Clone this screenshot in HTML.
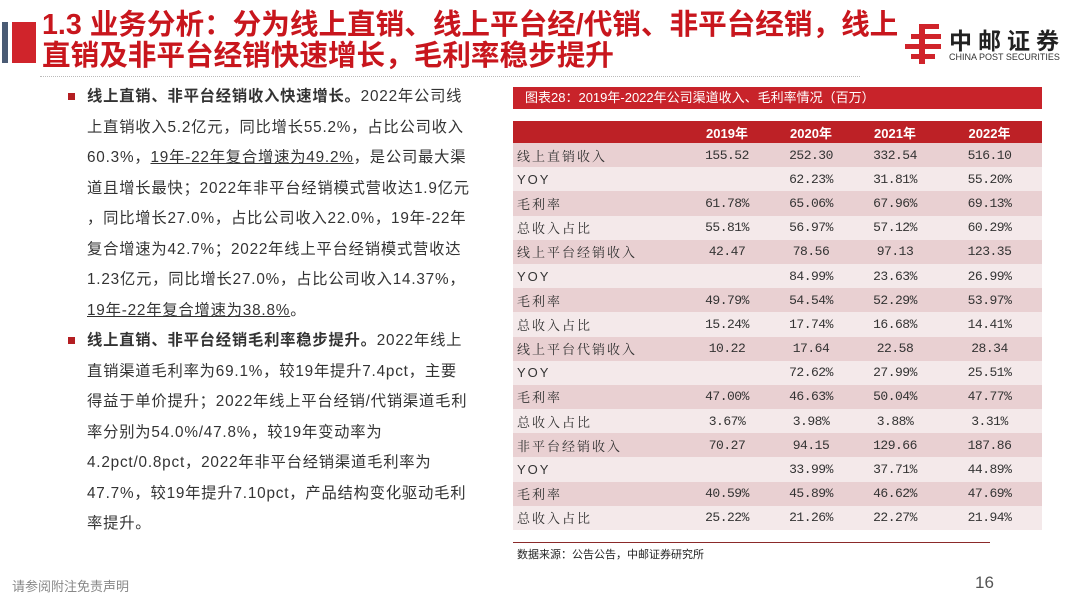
<!DOCTYPE html>
<html><head><meta charset="utf-8">
<style>
*{margin:0;padding:0;box-sizing:border-box}
body{width:1080px;height:608px;background:#fff;position:relative;overflow:hidden;font-family:"Liberation Sans","Noto Sans CJK SC",sans-serif}
.abs{position:absolute}
.title{left:42px;top:10px;color:#c8161d;font-size:28.6px;font-weight:bold;line-height:31px;letter-spacing:0px;white-space:nowrap}
.para{left:68px;top:82px;width:420px;font-size:15.3px;line-height:30.5px;color:#333;white-space:nowrap;letter-spacing:0.8px}
.para p{position:relative;padding-left:19px}
.para p::before{content:"";position:absolute;left:0;top:11px;width:7px;height:7px;background:#b41e22}
u{text-decoration:underline}
table{border-collapse:collapse;font-size:13px;color:#333}
td{height:24.2px;padding:0;text-align:center;font-family:"Liberation Mono",monospace;letter-spacing:-0.5px}
td.l{text-align:left;padding-left:4px;font-family:"Noto Serif CJK SC","Liberation Sans",serif;letter-spacing:2px}
tr.a td{background:#e9d0d2}
tr.b td{background:#f4e9ea}
th{background:#bd2126;color:#fff;height:22px;font-size:13px}
</style></head><body>
<div class="abs" style="left:2px;top:22px;width:6px;height:41px;background:#4a5b74"></div>
<div class="abs" style="left:12px;top:22px;width:24px;height:41px;background:#d0242b"></div>
<div class="abs title">1.3 业务分析：分为线上直销、线上平台经/代销、非平台经销，线上<br>直销及非平台经销快速增长，毛利率稳步提升</div>
<div class="abs" style="left:40px;top:76px;width:820px;border-top:1px dotted #bbb"></div>
<div class="abs" style="left:903px;top:22px;width:165px;height:44px">
<svg width="42" height="44" style="position:absolute;left:0;top:0"><g fill="#d0242b"><rect x="18" y="2" width="18" height="5"/><rect x="8" y="12" width="30" height="5"/><rect x="2" y="22" width="36" height="5"/><rect x="8" y="32" width="24" height="5"/><rect x="16" y="2" width="6" height="40"/></g></svg>
<div style="position:absolute;left:46px;top:0;font-size:23px;font-weight:bold;color:#222;letter-spacing:6px">中邮证券</div>
<div style="position:absolute;left:46px;top:30px;font-size:9px;color:#333;white-space:nowrap">CHINA POST SECURITIES</div>
</div>
<div class="abs para">
<p><b>线上直销、非平台经销收入快速增长。</b>2022年公司线<br>上直销收入5.2亿元，同比增长55.2%，占比公司收入<br>60.3%，<u>19年-22年复合增速为49.2%</u>，是公司最大渠<br>道且增长最快；2022年非平台经销模式营收达1.9亿元<br>，同比增长27.0%，占比公司收入22.0%，19年-22年<br>复合增速为42.7%；2022年线上平台经销模式营收达<br>1.23亿元，同比增长27.0%，占比公司收入14.37%，<br><u>19年-22年复合增速为38.8%</u>。</p>
<p><b>线上直销、非平台经销毛利率稳步提升。</b>2022年线上<br>直销渠道毛利率为69.1%，较19年提升7.4pct，主要<br>得益于单价提升；2022年线上平台经销/代销渠道毛利<br>率分别为54.0%/47.8%，较19年变动率为<br>4.2pct/0.8pct，2022年非平台经销渠道毛利率为<br>47.7%，较19年提升7.10pct，产品结构变化驱动毛利<br>率提升。</p>
</div>
<div class="abs" style="left:513px;top:87px;width:529px;height:22px;background:#c8232a;color:#fff;font-size:13px;line-height:22px;padding-left:12px">图表28：2019年-2022年公司渠道收入、毛利率情况（百万）</div>
<table class="abs" id="tbl" style="left:513px;top:121px;width:529px">
<colgroup><col style="width:172px"><col style="width:84px"><col style="width:84px"><col style="width:84px"><col style="width:105px"></colgroup>
<tr><th></th><th>2019年</th><th>2020年</th><th>2021年</th><th>2022年</th></tr>
</table>
<div class="abs" style="left:513px;top:542px;width:477px;height:1px;background:#8b2a2a"></div>
<div class="abs" style="left:517px;top:546px;font-size:11px;color:#222">数据来源：公告公告，中邮证券研究所</div>
<div class="abs" style="left:12px;top:576px;font-size:13px;color:#888">请参阅附注免责声明</div>
<div class="abs" style="left:975px;top:573px;font-size:17px;color:#555">16</div>
<script>
var labels=["线上直销收入","YOY","毛利率","总收入占比","线上平台经销收入","YOY","毛利率","总收入占比","线上平台代销收入","YOY","毛利率","总收入占比","非平台经销收入","YOY","毛利率","总收入占比"];
var v2019=["155.52","","61.78%","55.81%","42.47","","49.79%","15.24%","10.22","","47.00%","3.67%","70.27","","40.59%","25.22%"];
var v2020=["252.30","62.23%","65.06%","56.97%","78.56","84.99%","54.54%","17.74%","17.64","72.62%","46.63%","3.98%","94.15","33.99%","45.89%","21.26%"];
var v2021=["332.54","31.81%","67.96%","57.12%","97.13","23.63%","52.29%","16.68%","22.58","27.99%","50.04%","3.88%","129.66","37.71%","46.62%","22.27%"];
var v2022=["516.10","55.20%","69.13%","60.29%","123.35","26.99%","53.97%","14.41%","28.34","25.51%","47.77%","3.31%","187.86","44.89%","47.69%","21.94%"];
var tbl=document.getElementById('tbl');
labels.forEach(function(l,i){
 var tr=document.createElement('tr');
 tr.className=i%2?'b':'a';
 
 
 [l,v2019[i],v2020[i],v2021[i],v2022[i]].forEach(function(t,j){
  var td=document.createElement('td');
  if(j==0){td.className='l';if(t=='YOY')td.style.fontFamily='"Liberation Sans",sans-serif';}
  td.textContent=t;
  
  
  tr.appendChild(td);
 });
 tbl.appendChild(tr);
});
</script>
</body></html>
